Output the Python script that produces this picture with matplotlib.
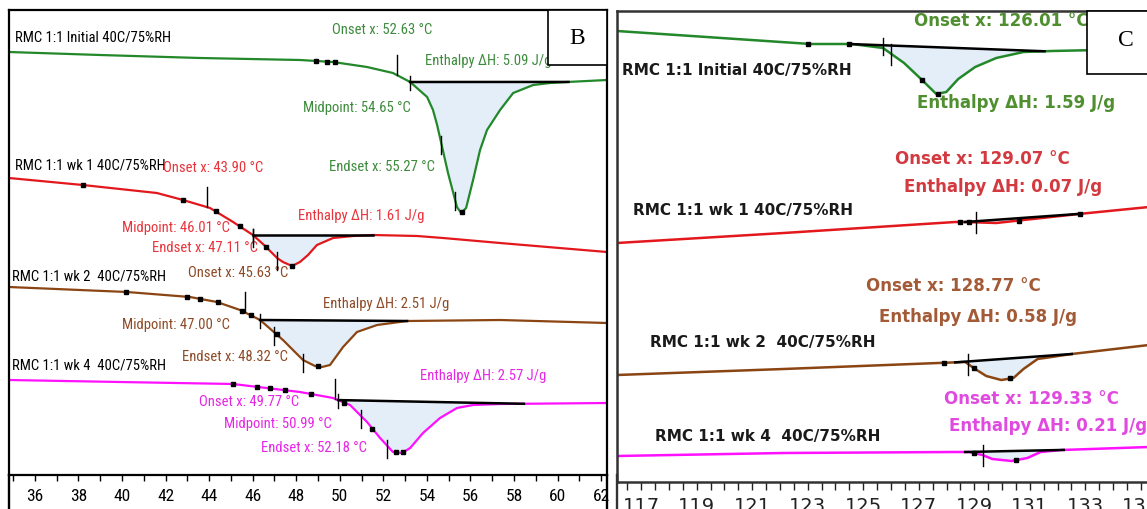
import numpy as np
import matplotlib.pyplot as plt
import matplotlib.ticker as ticker
from matplotlib.patches import Rectangle
from matplotlib.lines import Line2D

# ---- panel B: 35-62 C region (heat flow, arbitrary offset units) ----
b_green_t = [34.81, 38.99, 43.58, 48.17, 49.69, 51.25, 52.44, 53.23, 54.01, 54.28, 54.47, 54.97,
             55.38, 55.57, 55.80, 56.12, 56.44, 56.76, 57.36, 57.96, 58.88, 59.66, 60.44, 62.27]
b_green_hf = [4.23, 4.20, 4.17, 4.15, 4.13, 4.08, 4.02, 3.93, 3.78, 3.65, 3.50, 3.02,
              2.68, 2.62, 2.67, 2.95, 3.25, 3.45, 3.65, 3.82, 3.90, 3.92, 3.93, 3.95]
b_red_t = [34.81, 38.20, 41.60, 42.80, 44.04, 45.10, 46.01, 46.57, 47.12, 47.39, 47.81, 48.17,
           48.54, 48.95, 49.69, 50.61, 51.53, 53.55, 54.74, 57.36, 62.27]
b_red_hf = [2.97, 2.90, 2.82, 2.75, 2.67, 2.53, 2.40, 2.29, 2.17, 2.13, 2.09, 2.13,
            2.20, 2.30, 2.37, 2.39, 2.40, 2.39, 2.37, 2.32, 2.23]
b_brown_t = [34.81, 40.23, 43.12, 44.36, 45.42, 46.34, 47.39, 48.31, 48.86, 49.18, 49.55, 50.15,
             50.79, 51.71, 53.09, 57.36, 62.27]
b_brown_hf = [1.88, 1.83, 1.78, 1.73, 1.65, 1.55, 1.35, 1.15, 1.09, 1.08, 1.10, 1.28,
              1.43, 1.50, 1.54, 1.55, 1.52]
b_mag_t = [34.81, 39.90, 45.10, 48.17, 49.69, 50.47, 51.25, 51.85, 52.44, 52.86, 53.23, 53.82,
           54.60, 55.38, 56.12, 57.36, 62.27]
b_mag_hf = [0.95, 0.93, 0.91, 0.83, 0.77, 0.70, 0.53, 0.37, 0.23, 0.22, 0.27, 0.42,
            0.57, 0.67, 0.70, 0.71, 0.72]

# onset / midpoint / endset temperatures and integration limits
b_events = {
    "green": [52.63, 54.65, 55.27],
    "red": [43.90, 46.01, 47.11],
    "brown": [45.63, 47.00, 48.32],
    "mag": [49.77, 50.99, 52.18],
}
b_limits = {"green": (53.23, 60.50), "red": (46.01, 51.53), "brown": (46.34, 53.09), "mag": (49.92, 58.45)}
b_enthalpy = {"green": "5.09", "red": "1.61", "brown": "2.51", "mag": "2.57"}

# ---- panel C: 116-135 C region ----
c_green_t = [116.13, 123.11, 124.59, 125.71, 126.47, 127.08, 127.63, 127.99, 128.42, 129.03,
             129.79, 130.77, 131.78, 133.48, 135.29]
c_green_hf = [4.51, 4.38, 4.38, 4.34, 4.19, 4.03, 3.88, 3.90, 4.03, 4.15, 4.24, 4.30, 4.31, 4.32, 4.34]
c_red_t = [116.13, 122.13, 128.31, 128.67, 129.79, 130.77, 132.76, 135.29]
c_red_hf = [2.39, 2.49, 2.60, 2.60, 2.59, 2.62, 2.68, 2.75]
c_brown_t = [116.13, 122.13, 127.70, 128.67, 129.03, 129.43, 129.97, 130.41, 130.77, 131.28,
             131.78, 132.51, 135.29]
c_brown_hf = [1.07, 1.13, 1.19, 1.20, 1.13, 1.06, 1.02, 1.04, 1.13, 1.23, 1.25, 1.28, 1.37]
c_mag_t = [116.13, 122.13, 128.31, 128.82, 129.29, 129.65, 130.34, 130.91, 131.39, 132.15, 135.29]
c_mag_hf = [0.26, 0.29, 0.30, 0.30, 0.27, 0.23, 0.21, 0.24, 0.30, 0.32, 0.35]

c_onset = {"green": 126.01, "red": 129.07, "brown": 128.77, "mag": 129.33}
c_limits = {"green": (124.48, 131.53), "red": (128.67, 132.87), "brown": (128.31, 132.51), "mag": (128.67, 132.22)}
c_enthalpy = {"green": "1.59", "red": "0.07", "brown": "0.58", "mag": "0.21"}

sample_names = ["RMC 1:1 Initial 40C/75%RH", "RMC 1:1 wk 1 40C/75%RH",
                "RMC 1:1 wk 2  40C/75%RH", "RMC 1:1 wk 4  40C/75%RH"]

b_ticks = list(range(36, 63, 2))
c_ticks = list(range(117, 136, 2))

line_col = {"green": "#22882a", "red": "#e3181c", "brown": "#8b4513", "mag": "#ff10ff"}
b_text_col = {"green": "#3d8b3d", "red": "#e8343c", "brown": "#8e4a26", "mag": "#e626e6"}
c_text_col = {"green": "#4f8f30", "red": "#d23a40", "brown": "#a35a36", "mag": "#e04ae0"}
fill_col = "#e4eef9"

W, H = 1147, 509
NARROW = ["Roboto Condensed", "DejaVu Sans Condensed", "Liberation Sans"]


def fx(px):
    return px / W


def fy(py):
    return 1 - py / H


def draw_peak(ax, t, hf, key, limits, lw=1.6):
    t = np.asarray(t)
    hf = np.asarray(hf)
    t0, t1 = limits
    y0, y1 = np.interp([t0, t1], t, hf)
    tt = np.concatenate([[t0], t[(t > t0) & (t < t1)], [t1]])
    ax.fill_between(tt, np.interp(tt, t, hf), np.interp(tt, [t0, t1], [y0, y1]),
                    color=fill_col, lw=0, zorder=1)
    ax.plot(t, hf, color=line_col[key], lw=lw, zorder=2)
    ax.plot([t0, t1], [y0, y1], color="black", lw=1.8, zorder=3)
    return t, hf


def event_tick(ax, t, hf, temp, up=0.1, down=0.1):
    yc = np.interp(temp, t, hf)
    ax.plot([temp, temp], [yc - down, yc + up], color="black", lw=1.0, zorder=4)


def dots(ax, t, hf, temps):
    ax.plot(temps, np.interp(temps, t, hf), ls="none", marker="s", ms=2.2, color="black", zorder=4)


fig = plt.figure(figsize=(W / 100, H / 100), dpi=100)

# ================= panel B =================
axB = fig.add_axes([fx(9), fy(475), fx(607) - fx(9), fy(10) - fy(475)])
axB.set_xlim(34.81, 62.27)
axB.set_ylim(0, 4.65)

runs_b = {"green": (b_green_t, b_green_hf), "red": (b_red_t, b_red_hf),
          "brown": (b_brown_t, b_brown_hf), "mag": (b_mag_t, b_mag_hf)}
dot_b = {"green": [48.9, 49.4, 49.8, 55.6], "red": [38.2, 42.8, 44.3, 45.4, 46.6, 47.8],
         "brown": [40.2, 43.0, 43.6, 44.4, 45.5, 45.9, 47.1, 49.0],
         "mag": [45.1, 46.2, 46.8, 47.5, 48.7, 50.2, 51.5, 52.6, 52.9]}
for key, (t, hf) in runs_b.items():
    t, hf = draw_peak(axB, t, hf, key, b_limits[key])
    on, mid, end = b_events[key]
    event_tick(axB, t, hf, on, up=0.2, down=0.0)
    event_tick(axB, t, hf, mid, up=0.06, down=0.12)
    event_tick(axB, t, hf, end, up=0.06, down=0.12)
    event_tick(axB, t, hf, b_limits[key][0], up=0.06, down=0.08)
    dots(axB, t, hf, dot_b[key])

tb = dict(family=NARROW, fontsize=10.5)
# sample names
for name, y in zip(sample_names, [4.38, 3.10, 1.99, 1.09]):
    axB.text(35.1 if y > 3 else 34.95, y, name, color="black", ha="left", va="center", **tb)

# green annotations
g = b_text_col["green"]
axB.text(51.94, 4.45, "Onset x: 52.63 °C", color=g, ha="center", va="center", **tb)
axB.text(53.91, 4.14, "Enthalpy ΔH: " + b_enthalpy["green"] + " J/g", color=g, ha="left", va="center", **tb)
axB.text(53.27, 3.67, "Midpoint: 54.65 °C", color=g, ha="right", va="center", **tb)
axB.text(54.37, 3.08, "Endset x: 55.27 °C", color=g, ha="right", va="center", **tb)
# red annotations
r = b_text_col["red"]
axB.text(41.88, 3.07, "Onset x: 43.90 °C", color=r, ha="left", va="center", **tb)
axB.text(44.96, 2.47, "Midpoint: 46.01 °C", color=r, ha="right", va="center", **tb)
axB.text(46.24, 2.27, "Endset x: 47.11 °C", color=r, ha="right", va="center", **tb)
axB.text(48.08, 2.59, "Enthalpy ΔH: " + b_enthalpy["red"] + " J/g", color=r, ha="left", va="center", **tb)
# brown annotations
br = b_text_col["brown"]
axB.text(43.03, 2.02, "Onset x: 45.63 °C", color=br, ha="left", va="center", **tb)
axB.text(44.96, 1.50, "Midpoint: 47.00 °C", color=br, ha="right", va="center", **tb)
axB.text(47.62, 1.18, "Endset x: 48.32 °C", color=br, ha="right", va="center", **tb)
axB.text(49.23, 1.71, "Enthalpy ΔH: " + b_enthalpy["brown"] + " J/g", color=br, ha="left", va="center", **tb)
# magenta annotations
m = b_text_col["mag"]
axB.text(48.13, 0.73, "Onset x: 49.77 °C", color=m, ha="right", va="center", **tb)
axB.text(49.64, 0.51, "Midpoint: 50.99 °C", color=m, ha="right", va="center", **tb)
axB.text(51.25, 0.27, "Endset x: 52.18 °C", color=m, ha="right", va="center", **tb)
axB.text(53.68, 0.99, "Enthalpy ΔH: " + b_enthalpy["mag"] + " J/g", color=m, ha="left", va="center", **tb)

axB.set_xticks(b_ticks)
axB.xaxis.set_minor_locator(ticker.MultipleLocator(1))
axB.set_yticks([])
axB.tick_params(axis="x", which="both", direction="out", length=4, width=1, pad=6)
for lab in axB.get_xticklabels():
    lab.set_family(NARROW)
    lab.set_fontsize(12.5)
for s in axB.spines.values():
    s.set_linewidth(1.6)

# B label box
axB.add_patch(Rectangle((fx(548), fy(65)), fx(607) - fx(548), fy(10) - fy(65), transform=fig.transFigure,
                        facecolor="white", edgecolor="black", lw=1.2, zorder=10, clip_on=False))
fig.text(fx(577), fy(39), "B", family="Liberation Serif", fontsize=17, ha="center", va="center", zorder=11)

# ================= panel C =================
axC = fig.add_axes([fx(617), fy(482), fx(1152) - fx(617), fy(11) - fy(482)])
axC.set_xlim(116.13, 135.40)
axC.set_ylim(0, 4.71)

runs_c = {"green": (c_green_t, c_green_hf), "red": (c_red_t, c_red_hf),
          "brown": (c_brown_t, c_brown_hf), "mag": (c_mag_t, c_mag_hf)}
dot_c = {"green": [123.0, 124.5, 127.1, 127.7], "red": [128.5, 128.8, 130.6, 132.8],
         "brown": [127.9, 129.0, 130.3], "mag": [129.0, 130.5]}
for key, (t, hf) in runs_c.items():
    t, hf = draw_peak(axC, t, hf, key, c_limits[key], lw=1.8)
    event_tick(axC, t, hf, c_onset[key], up=0.1, down=0.11)
    dots(axC, t, hf, dot_c[key])
event_tick(axC, np.asarray(c_green_t), np.asarray(c_green_hf), 125.71, up=0.1, down=0.07)

tc = dict(family="DejaVu Sans", fontweight="bold", fontsize=12)
tn = dict(family="DejaVu Sans", fontweight="bold", fontsize=11, color="#1a1a1a")
for name, (x, y) in zip(sample_names, [(116.31, 4.11), (116.71, 2.71), (117.33, 1.39), (117.51, 0.46)]):
    axC.text(x, y, name, ha="left", va="center", **tn)

label_pos = {"green": [(126.83, 4.61), (126.94, 3.79)], "red": [(126.14, 3.23), (126.47, 2.95)],
             "brown": [(125.10, 1.96), (125.57, 1.65)], "mag": [(127.91, 0.83), (128.10, 0.56)]}
for key, ((x1, y1), (x2, y2)) in label_pos.items():
    axC.text(x1, y1, "Onset x: %.2f °C" % c_onset[key], color=c_text_col[key], ha="left", va="center", **tc)
    axC.text(x2, y2, "Enthalpy ΔH: " + c_enthalpy[key] + " J/g", color=c_text_col[key],
             ha="left", va="center", **tc)

axC.set_xticks(c_ticks)
axC.xaxis.set_minor_locator(ticker.MultipleLocator(0.5))
axC.set_yticks([])
axC.tick_params(axis="x", which="both", direction="out", length=6, width=1, pad=5, labelsize=14,
                colors="#222222")
axC.spines["right"].set_visible(False)
for s in ["left", "top", "bottom"]:
    axC.spines[s].set_linewidth(1.8)
    axC.spines[s].set_color("#333333")

axC.add_patch(Rectangle((fx(1087), fy(74)), fx(1150) - fx(1087), fy(11) - fy(74), transform=fig.transFigure,
                        facecolor="white", edgecolor="black", lw=1.2, zorder=10, clip_on=False))
fig.text(fx(1126), fy(41), "C", family="Liberation Serif", fontsize=17, ha="center", va="center", zorder=11)

# frame sides continue below the temperature axes
for px, col in [(9, "black"), (607, "black"), (617, "#333333")]:
    fig.add_artist(Line2D([fx(px), fx(px)], [fy(509), fy(475)], transform=fig.transFigure, color=col, lw=1.7))

fig.savefig("out.png", dpi=100)
